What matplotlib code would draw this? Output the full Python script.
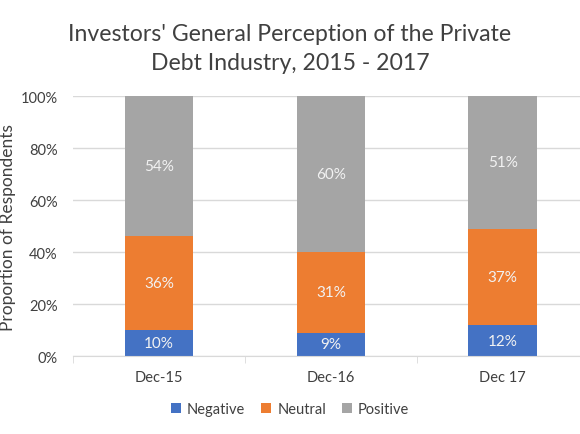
import matplotlib
matplotlib.use("Agg")
import matplotlib.pyplot as plt
import numpy as np

plt.rcParams['font.family'] = ['Lato', 'DejaVu Sans']

categories = ["Dec-15", "Dec-16", "Dec 17"]
negative = [10, 9, 12]
neutral = [36, 31, 37]
positive = [54, 60, 51]
series_names = ["Negative", "Neutral", "Positive"]
colors = ["#4472C4", "#ED7D31", "#A5A5A5"]

fig = plt.figure(figsize=(5.8, 4.35), dpi=100)
ax = fig.add_axes([0.126, 0.179, 0.889, 0.598])

x = np.arange(len(categories))
width = 0.4
bottom = np.zeros(len(categories))
for name, vals, c in zip(series_names, [negative, neutral, positive], colors):
    vals = np.array(vals, dtype=float)
    ax.bar(x, vals, width, bottom=bottom, color=c, label=name, zorder=3)
    for xi, b, v in zip(x, bottom, vals):
        ax.text(xi, b + v / 2, f"{int(v)}%", ha='center', va='center',
                color='#F2F2F2', fontsize=11, zorder=4)
    bottom += vals

ax.set_xlim(-0.5, len(categories) - 0.5)
ax.set_ylim(0, 100)
ax.set_yticks(np.arange(0, 101, 20))
ax.set_yticklabels([f"{v}%" for v in range(0, 101, 20)], fontsize=10.5, color='#404040')
ax.set_xticks(x)
ax.set_xticklabels(categories, fontsize=10.5, color='#404040')
ax.tick_params(axis='y', length=0, pad=11)
ax.tick_params(axis='x', length=0, pad=10)
ax.set_xticks(np.arange(-0.5, len(categories), 1), minor=True)
ax.tick_params(axis='x', which='minor', length=5, color='#D9D9D9')
ax.grid(axis='y', color='#D9D9D9', linewidth=1, zorder=0)
for s in ['top', 'right', 'left']:
    ax.spines[s].set_visible(False)
ax.spines['bottom'].set_color('#D9D9D9')
ax.spines['bottom'].set_zorder(5)

ax.set_ylabel("Proportion of Respondents", fontsize=12.5, color='#404040')
ax.yaxis.set_label_coords(-0.11, 0.5)

fig.suptitle("Investors' General Perception of the Private\nDebt Industry, 2015 - 2017",
             fontsize=16.6, color='#404040', y=0.945, linespacing=1.45)

handles, labels = ax.get_legend_handles_labels()
fig.legend(handles, labels, loc='center', bbox_to_anchor=(0.5, 0.057), ncol=3,
           frameon=False, fontsize=10.5, handlelength=0.7, handleheight=0.7,
           handletextpad=0.4, columnspacing=1.1, labelcolor='#404040')

fig.savefig("out.png", dpi=100)
